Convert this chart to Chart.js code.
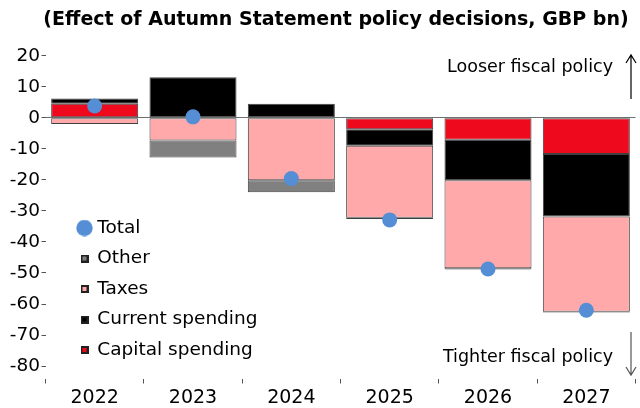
<!DOCTYPE html>
<html><head><meta charset="utf-8">
<script src="https://cdn.jsdelivr.net/npm/chart.js@4"></script>
<style>
html,body{margin:0;padding:0;overflow:hidden;background:#fff;width:640px;height:408px}
#wrap{width:640px;height:408px;overflow:hidden;position:relative}
canvas{display:block}
</style>
</head><body><div id="wrap"><canvas id="c" width="643" height="408"></canvas></div>
<script>
const years = ['2022', '2023', '2024', '2025', '2026', '2027'];
const capitalSpending = [4.5, 0, 0, -3.7, -7.1, -11.7];
const currentSpending = [1.7, 13.1, 4.5, -5.3, -13.0, -20.1];
const taxes = [-2.0, -7.3, -20.1, -23.2, -28.4, -30.7];
const other = [0, -5.5, -3.9, -0.4, -0.4, -0.2];
const total = [3.8, 0.3, -19.6, -32.9, -48.7, -62.0];
const yTickValues = [20, 10, 0, -10, -20, -30, -40, -50, -60, -70, -80];
const legendOrder = ['Total', 'Other', 'Taxes', 'Current spending', 'Capital spending'];
const titleText = '(Effect of Autumn Statement policy decisions, GBP bn)';

const FONT = 'DejaVu Sans';
const C_RED = '#EE0A1C', C_PINK = '#FFA9AB', C_BLACK = '#000000', C_GRAY = '#808080', C_DOT = '#558ED5';

function squareIcon(fill) {
  const c = document.createElement('canvas'); c.width = 8; c.height = 8;
  const g = c.getContext('2d');
  g.fillStyle = '#222'; g.fillRect(0, 0, 8, 8);
  g.fillStyle = fill; g.fillRect(2, 2, 4, 4);
  return c;
}
function circleIcon(fill) {
  const c = document.createElement('canvas'); c.width = 17; c.height = 17;
  const g = c.getContext('2d');
  g.fillStyle = fill; g.beginPath(); g.arc(8.5, 8.5, 8.2, 0, Math.PI * 2); g.fill();
  return c;
}
const icons = [squareIcon(C_RED), squareIcon(C_BLACK), squareIcon(C_PINK), squareIcon(C_GRAY), circleIcon(C_DOT)];

const barCommon = { borderColor: '#404040', borderWidth: 1, borderSkipped: false, barPercentage: 0.885, categoryPercentage: 1.0 };

const placePlugin = {
  id: 'place',
  afterLayout(chart) {
    const lg = chart.legend;
    if (lg) { const w = lg.width, h = lg.height; lg.left = 69; lg.top = 206.75; lg.right = lg.left + w; lg.bottom = lg.top + h; }
    const t = chart.titleBlock;
    if (t) { t.left = 43; t.right = 629; t.width = 586; }
  }
};

const notesPlugin = {
  id: 'notes',
  afterDraw(chart) {
    const ctx = chart.ctx;
    ctx.save();
    ctx.font = '17.5px "' + FONT + '"';
    ctx.fillStyle = '#000';
    ctx.textAlign = 'right';
    ctx.textBaseline = 'middle';
    ctx.fillText('Looser fiscal policy', 613, 67);
    ctx.fillText('Tighter fiscal policy', 613, 357);
    ctx.lineWidth = 1.2;
    ctx.strokeStyle = '#000';
    ctx.beginPath();
    ctx.moveTo(631, 99); ctx.lineTo(631, 55);
    ctx.moveTo(626, 63); ctx.lineTo(631, 55); ctx.lineTo(636, 63);
    ctx.stroke();
    ctx.strokeStyle = '#555';
    ctx.beginPath();
    ctx.moveTo(631, 332); ctx.lineTo(631, 375);
    ctx.moveTo(626, 367); ctx.lineTo(631, 375); ctx.lineTo(636, 367);
    ctx.stroke();
    ctx.restore();
  }
};

new Chart(document.getElementById('c'), {
  type: 'bar',
  data: {
    labels: years,
    datasets: [
      Object.assign({ label: 'Capital spending', data: capitalSpending, backgroundColor: C_RED }, barCommon),
      Object.assign({ label: 'Current spending', data: currentSpending, backgroundColor: C_BLACK }, barCommon),
      Object.assign({ label: 'Taxes', data: taxes, backgroundColor: C_PINK }, barCommon),
      Object.assign({ label: 'Other', data: other, backgroundColor: C_GRAY }, barCommon),
      { type: 'line', label: 'Total', data: total, stack: 'total', showLine: false, order: -1,
        pointRadius: 7.5, pointHoverRadius: 7.5, pointBackgroundColor: C_DOT, pointBorderWidth: 0,
        backgroundColor: C_DOT, borderColor: C_DOT }
    ]
  },
  options: {
    responsive: false,
    animation: false,
    devicePixelRatio: 1,
    layout: { padding: 0 },
    plugins: {
      title: {
        display: true, text: titleText, color: '#000',
        font: { family: FONT, size: 19, weight: 'bold', lineHeight: 1.2 },
        padding: { top: 9, bottom: 11.5 }
      },
      legend: {
        position: 'chartArea', align: 'start',
        labels: {
          usePointStyle: true, boxWidth: 7, boxHeight: 7, padding: 12, color: '#000',
          font: { family: FONT, size: 18.5 },
          generateLabels(chart) {
            const base = Chart.defaults.plugins.legend.labels.generateLabels(chart);
            base.forEach(it => { it.pointStyle = icons[it.datasetIndex]; it.fontColor = '#000'; });
            base.sort((a, b) => legendOrder.indexOf(a.text) - legendOrder.indexOf(b.text));
            return base;
          }
        }
      },
      tooltip: { enabled: false }
    },
    scales: {
      x: {
        stacked: true,
        border: { display: false },
        grid: { drawOnChartArea: false, drawTicks: true, tickLength: 5, tickColor: '#555', offset: true },
        ticks: { color: '#000', font: { family: FONT, size: 19 }, padding: 3, maxRotation: 0 },
        afterFit(s) { s.height = 29.5; }
      },
      y: {
        stacked: true, min: -84, max: 24,
        border: { display: false },
        afterBuildTicks(s) { s.ticks = yTickValues.map(v => ({ value: v })); },
        afterFit(s) { s.width = 45.5; },
        grid: {
          drawTicks: true, tickLength: 4, tickColor: '#555',
          color: c => (c.tick && c.tick.value === 0 ? '#707070' : 'rgba(0,0,0,0)'),
          lineWidth: 1
        },
        ticks: { color: '#000', font: { family: FONT, size: 18.5 }, padding: 1.5 }
      }
    }
  },
  plugins: [placePlugin, notesPlugin]
});
</script>
</body></html>
